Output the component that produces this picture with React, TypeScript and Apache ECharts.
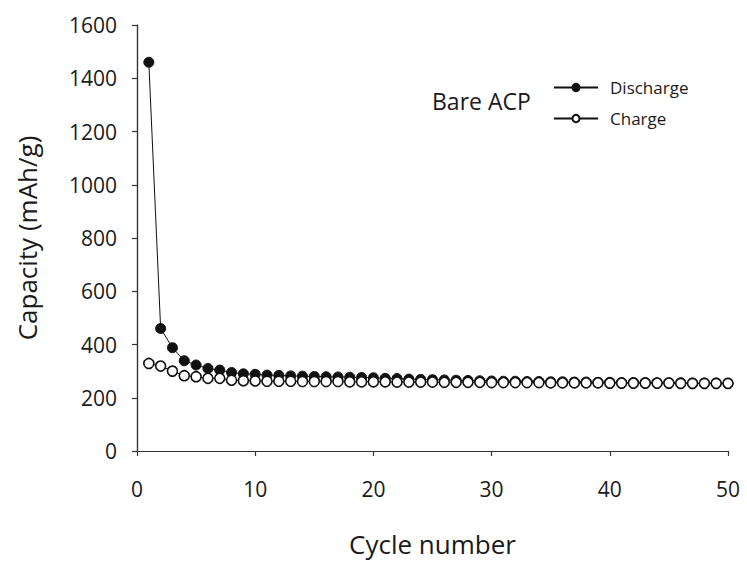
import React, { useEffect, useRef } from "react";
import * as echarts from "echarts";

const cycles: number[] = Array.from({ length: 50 }, (_, i) => i + 1);

const discharge: number[] = [
  1460, 460, 388, 339, 323, 310, 304, 295, 290, 288,
  285, 284, 282, 281, 280, 279, 278, 277, 276, 275,
  273, 272, 270, 269, 268, 267, 266, 265, 264, 263,
  262, 262, 261, 261, 260, 260, 259, 259, 258, 258,
  257, 257, 257, 256, 256, 256, 255, 255, 255, 254,
];

const charge: number[] = [
  329, 319, 300, 283, 279, 273, 273, 266, 264, 263,
  262, 262, 262, 261, 261, 261, 261, 260, 260, 260,
  260, 259, 259, 259, 259, 258, 258, 258, 258, 257,
  257, 257, 257, 257, 256, 256, 256, 256, 256, 255,
  255, 255, 255, 255, 255, 254, 254, 254, 254, 254,
];

const FONT = "'Open Sans', Lato, sans-serif";
const INK = "#1a1a1a";

export default function App() {
  const ref = useRef<HTMLDivElement>(null);
  useEffect(() => {
    if (!ref.current) return;
    const chart = echarts.init(ref.current, undefined, { renderer: "svg" });
    const axisCommon = {
      axisLine: { show: true, lineStyle: { color: "#333", width: 1.2 } },
      axisTick: { show: true, inside: false, length: 5, lineStyle: { color: "#333", width: 1.2 } },
      splitLine: { show: false },
    };
    chart.setOption({
      animation: false,
      backgroundColor: "#ffffff",
      grid: { left: 137, right: 19, top: 25, bottom: 109, show: false },
      xAxis: [
        {
          type: "value",
          min: 0,
          max: 50,
          interval: 10,
          name: "Cycle number",
          nameLocation: "middle",
          nameGap: 80,
          nameTextStyle: { fontFamily: FONT, fontSize: 26, color: INK },
          axisLabel: { margin: 27, fontFamily: FONT, fontSize: 21, color: INK },
          ...axisCommon,
        },
        {
          type: "value",
          position: "top",
          min: 0,
          max: 50,
          axisLine: { show: true, lineStyle: { color: "#333", width: 1.2 } },
          axisTick: { show: false },
          axisLabel: { show: false },
          splitLine: { show: false },
        },
      ],
      yAxis: [
        {
          type: "value",
          min: 0,
          max: 1600,
          interval: 200,
          name: "Capacity (mAh/g)",
          nameLocation: "middle",
          nameGap: 97,
          nameTextStyle: { fontFamily: FONT, fontSize: 26, color: INK },
          axisLabel: {
            margin: 20,
            fontFamily: FONT,
            fontSize: 21,
            color: INK,
            formatter: (v: number) => String(v),
          },
          ...axisCommon,
        },
        {
          type: "value",
          position: "right",
          min: 0,
          max: 1600,
          axisLine: { show: true, lineStyle: { color: "#333", width: 1.2 } },
          axisTick: { show: false },
          axisLabel: { show: false },
          splitLine: { show: false },
        },
      ],
      legend: {
        orient: "vertical",
        left: 553,
        top: 79,
        itemWidth: 44,
        itemHeight: 9,
        itemGap: 14,
        padding: 0,
        textStyle: { fontFamily: FONT, fontSize: 17, color: INK, padding: [0, 0, 0, 7] },
        data: ["Discharge", "Charge"],
      },
      graphic: [
        {
          type: "text",
          left: 432,
          top: 89,
          style: { text: "Bare ACP", fontFamily: FONT, fontSize: 23, fill: INK },
        },
      ],
      series: [
        {
          name: "Discharge",
          type: "line",
          data: cycles.map((c, i) => [c, discharge[i]]),
          symbol: "circle",
          symbolSize: 10,
          lineStyle: { color: "#111", width: 1 },
          itemStyle: { color: "#111", borderColor: "#111", borderWidth: 1 },
          z: 2,
        },
        {
          name: "Charge",
          type: "line",
          data: cycles.map((c, i) => [c, charge[i]]),
          symbol: "circle",
          symbolSize: 10,
          lineStyle: { color: "#111", width: 1 },
          itemStyle: { color: "#ffffff", borderColor: "#111", borderWidth: 1.6 },
          z: 3,
        },
      ],
    });
    return () => chart.dispose();
  }, []);
  return <div ref={ref} style={{ width: 747, height: 562, position: "absolute", left: 0, top: 0 }} />;
}
